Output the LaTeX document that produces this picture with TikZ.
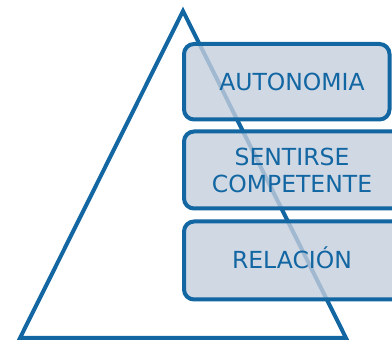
\documentclass[tikz,border=0pt]{standalone}
\usepackage{fontspec}
\setmainfont{DejaVu Sans}
\usepackage{tikz}
\definecolor{azul}{RGB}{18,102,162}
\definecolor{gris}{RGB}{196,206,221}
\tikzset{caja/.style={draw=azul, line width=4pt, fill=gris, fill opacity=0.8, rounded corners=10pt}}
\tikzset{t/.style={text=azul, font=\fontsize{23.5}{26.5}\selectfont, align=center, inner sep=0pt}}

\begin{document}
\begin{tikzpicture}[x=1pt, y=-1pt]
        \clip (0,0) rectangle (392,344);
        % piramide
        \coordinate (P) at (183,11);
        \coordinate (L) at (20,338);
        \coordinate (R) at (346,338);
        \draw [azul, line width=4pt] (P)--(R)--(L)--cycle;
        % cajas
        \draw [caja] (184,44) rectangle (389.5,119.5);
        \draw [caja] (184,131.5) rectangle (420,208.5);
        \draw [caja] (184,221.5) rectangle (420,299.5);
        \node [t, anchor=base] (aut) at (292,90.7) {AUTONOMIA};
        \node [t] (comp) at (292,170.5) {SENTIRSE\\COMPETENTE};
        \node [t, anchor=base] (rel) at (292,269) {RELACIÓN};
      \end{tikzpicture}
\end{document}
